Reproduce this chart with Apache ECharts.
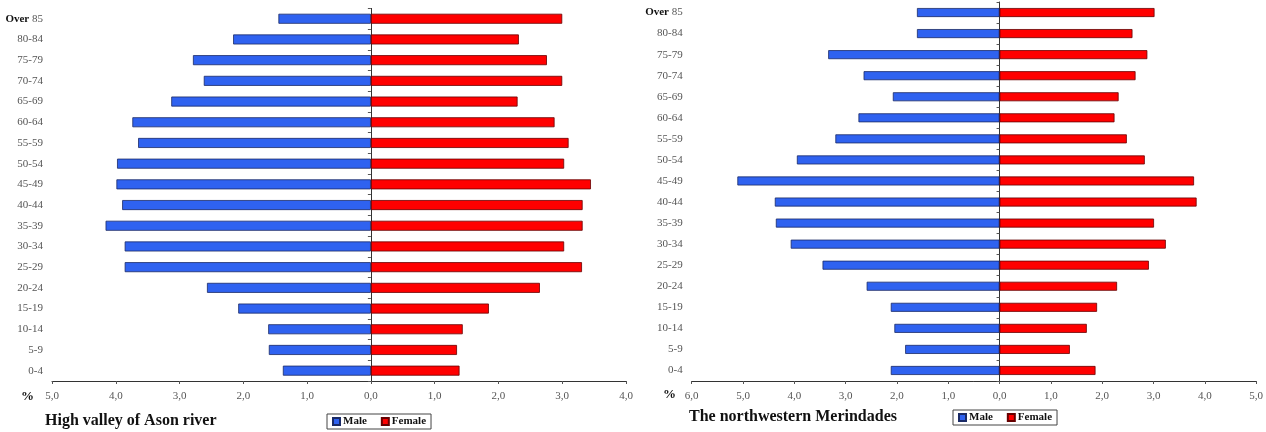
<!DOCTYPE html>
<html>
<head>
<meta charset="utf-8">
<script src="https://cdn.jsdelivr.net/npm/echarts@6/dist/echarts.min.js"></script>
<style>html,body{margin:0;padding:0;background:#fff;}#c{width:1266px;height:432px;}</style>
</head>
<body>
<div id="c"></div>
<script>
// Age groups, bottom to top
var ageGroups = ['0-4','5-9','10-14','15-19','20-24','25-29','30-34','35-39','40-44','45-49','50-54','55-59','60-64','65-69','70-74','75-79','80-84','Over 85'];

// High valley of Ason river (%)
var asonMale   = [1.38,1.60,1.61,2.08,2.57,3.86,3.86,4.16,3.90,3.99,3.98,3.65,3.74,3.13,2.62,2.79,2.16,1.45];
var asonFemale = [1.39,1.35,1.44,1.85,2.65,3.31,3.03,3.32,3.32,3.45,3.03,3.10,2.88,2.30,3.00,2.76,2.32,3.00];

// The northwestern Merindades (%)
var merMale   = [2.12,1.84,2.05,2.12,2.59,3.45,4.07,4.36,4.38,5.11,3.95,3.20,2.75,2.08,2.65,3.34,1.61,1.61];
var merFemale = [1.87,1.37,1.70,1.90,2.29,2.91,3.24,3.01,3.84,3.79,2.83,2.48,2.24,2.32,2.65,2.88,2.59,3.02];

var titles = ['High valley of Ason river', 'The northwestern Merindades'];
var legendNames = ['Male', 'Female'];

var FONT = '"Liberation Serif", "DejaVu Serif", serif';
var BLUE = '#2f62f0', RED = '#ff0000';

function neg(a){ return a.map(function(v){ return -v; }); }
function fmt(v){ return Math.abs(v).toFixed(1).replace('.', ','); }

var grids = [
  {left: 52, right: 640, top: 8.4, bottom: 51},
  {left: 691.7, right: 7, top: 2, bottom: 51}
];
var ranges = [[-5, 4], [-6, 5]];

var xAxes = [], yAxes = [], series = [];
[0,1].forEach(function(i){
  xAxes.push({
    type: 'value', gridIndex: i, min: ranges[i][0], max: ranges[i][1], interval: 1,
    splitLine: {show: false},
    axisLine: {show: true, lineStyle: {color: '#333', width: 1}},
    axisTick: {show: true, length: 3, lineStyle: {color: '#555'}},
    axisLabel: {formatter: fmt, fontFamily: FONT, fontSize: 11, color: '#555', margin: 10}
  });
  // zero line with ticks
  yAxes.push({
    type: 'category', gridIndex: i, data: ageGroups,
    axisLine: {show: true, onZero: true, lineStyle: {color: '#333', width: 1}},
    axisTick: {show: true, length: 3, lineStyle: {color: '#555'}},
    axisLabel: {show: false}
  });
  // labels at the left
  yAxes.push({
    type: 'category', gridIndex: i, data: ageGroups, position: 'left',
    axisLine: {show: false, onZero: false}, axisTick: {show: false},
    axisLabel: {
      fontFamily: FONT, fontSize: 11, color: '#555', margin: 9,
      formatter: function(v){
        if (v.indexOf('Over') === 0) return '{b|Over}{n|' + v.slice(4) + '}';
        return v;
      },
      rich: {b: {fontFamily: FONT, fontSize: 11, fontWeight: 'bold', color: '#111'},
             n: {fontFamily: FONT, fontSize: 11, color: '#555'}}
    }
  });
});

var dataSets = [[asonMale, asonFemale], [merMale, merFemale]];
var barW = [10, 9];
[0,1].forEach(function(i){
  series.push({
    name: legendNames[0], type: 'bar', xAxisIndex: i, yAxisIndex: i*2, stack: 's' + i,
    data: neg(dataSets[i][0]), barWidth: barW[i],
    itemStyle: {color: BLUE, borderColor: '#1a2a66', borderWidth: 0.8}
  });
  series.push({
    name: legendNames[1], type: 'bar', xAxisIndex: i, yAxisIndex: i*2, stack: 's' + i,
    data: dataSets[i][1], barWidth: barW[i],
    itemStyle: {color: RED, borderColor: '#660000', borderWidth: 0.8}
  });
});

function legendAt(left, top){
  return {
    data: legendNames, left: left, top: top, orient: 'horizontal',
    icon: 'rect', itemWidth: 7, itemHeight: 7, itemGap: 14,
    borderColor: '#444', borderWidth: 1, padding: [2, 5, 2, 5],
    selectedMode: false,
    textStyle: {fontFamily: FONT, fontSize: 11, fontWeight: 'bold', color: '#111', padding: [0,0,0,-2]}
  };
}

var option = {
  backgroundColor: '#fff',
  animation: false,
  color: [BLUE, RED],
  grid: grids,
  xAxis: xAxes,
  yAxis: yAxes,
  series: series,
  legend: [legendAt(327, 414), legendAt(953, 410)],
  graphic: [
    {type: 'text', left: 45, top: 413, style: {text: titles[0], font: 'bold 16px ' + FONT, fill: '#111'}},
    {type: 'text', left: 689, top: 409, style: {text: titles[1], font: 'bold 16px ' + FONT, fill: '#111'}},
    {type: 'text', left: 21, top: 390, style: {text: '%', font: 'bold 13px ' + FONT, fill: '#111'}},
    {type: 'text', left: 663, top: 388, style: {text: '%', font: 'bold 13px ' + FONT, fill: '#111'}}
  ]
};

echarts.init(document.getElementById('c')).setOption(option);
</script>
</body>
</html>
